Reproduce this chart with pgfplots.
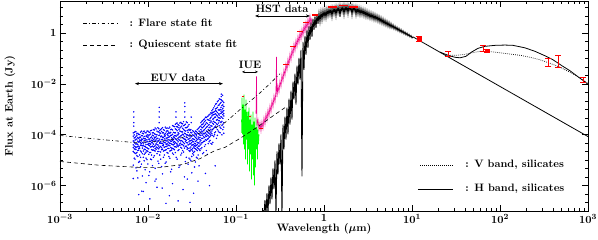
\documentclass[border=0pt]{standalone}
\usepackage{pgfplots}
\pgfplotsset{compat=1.18}
\usepackage{pgfplotstable}
\usetikzlibrary{arrows.meta}
\pgfplotsset{euvstyle/.style={only marks, mark=*, mark size=0.5pt, color=blue, mark options={draw=none, fill=blue}}}
\newcommand{\txt}{\fontsize{10.8}{13}\selectfont\bfseries\boldmath}

% EUV data, two interleaved sets: wavelength + 8 flux samples per bin
\pgfplotstableread{
l a b c d e f g h
0.00680 3.1e-5 1.2e-4 6.4e-6 5.7e-5 2.2e-5 8.9e-5 4.0e-5 1.9e-6
0.00713 7.7e-5 2.7e-5 1.35e-4 1.1e-5 4.6e-5 1.9e-5 6.2e-5 3.4e-5
0.00748 4.4e-5 9.6e-5 2.0e-5 3.8e-6 6.9e-5 3.3e-5 1.5e-5 1.1e-4
0.00785 1.05e-4 3.6e-5 5.2e-5 2.5e-5 8.3e-6 7.3e-5 4.4e-7 2.9e-5
0.00823 2.3e-5 6.0e-5 8.1e-5 1.28e-4 3.9e-5 1.3e-5 4.8e-5 5.5e-6
0.00864 6.6e-5 1.8e-5 3.0e-5 9.2e-5 5.0e-5 2.4e-6 1.15e-4 3.7e-5
0.00906 3.5e-5 1.38e-4 7.0e-5 1.7e-5 2.7e-5 5.9e-5 9.5e-6 8.6e-5
0.00950 8.8e-5 4.1e-5 1.2e-5 6.3e-5 1.2e-4 2.1e-5 3.2e-5 1.3e-6
0.00997 5.4e-5 2.9e-5 1.0e-4 4.2e-5 7.1e-6 7.9e-5 1.4e-4 2.2e-5
0.01046 1.25e-4 6.8e-5 3.7e-5 2.0e-5 5.6e-5 3.5e-6 4.5e-5 9.9e-5
0.01097 2.6e-5 8.2e-5 1.5e-4 4.9e-5 1.6e-5 3.4e-5 6.1e-5 1.05e-5
0.01151 1.6e-4 4.3e-5 2.5e-5 9.1e-5 6.4e-5 1.3e-5 3.3e-5 1.2e-4
0.01207 5.8e-5 1.85e-4 3.9e-5 2.3e-5 7.8e-5 4.8e-6 1.05e-4 2.9e-5
0.01266 3.1e-5 7.1e-5 1.4e-4 5.2e-5 1.8e-5 9.9e-5 4.1e-5 8.6e-7
0.01328 9.4e-5 2.8e-5 6.0e-5 1.75e-4 3.6e-5 2.2e-5 1.3e-4 7.5e-6
0.01393 4.7e-5 1.15e-4 2.1e-5 3.5e-5 8.4e-5 5.5e-5 1.1e-5 1.6e-4
0.01462 1.9e-4 3.8e-5 8.0e-5 2.7e-5 4.6e-5 1.2e-4 6.6e-5 2.9e-6
0.01533 6.9e-5 2.4e-5 1.0e-4 5.0e-5 1.5e-4 1.6e-5 3.2e-5 8.8e-5
0.01608 3.4e-5 1.3e-4 5.7e-5 8.5e-6 7.4e-5 2.6e-5 1.8e-4 4.2e-5
0.01687 1.1e-4 5.3e-5 2.9e-5 7.9e-5 1.9e-5 4.0e-5 9.3e-5 1.4e-4
0.01770 4.5e-5 2.0e-4 8.7e-5 3.7e-5 6.1e-5 2.3e-5 1.2e-5 1.15e-4
0.01857 7.6e-5 3.0e-5 1.65e-4 5.6e-5 9.7e-5 4.4e-6 4.3e-5 2.5e-5
0.01948 2.2e-4 6.5e-5 4.0e-5 1.25e-4 2.8e-5 8.2e-5 1.7e-5 5.1e-5
0.02043 1.2e-4 3.4e-5 2.6e-4 7.0e-5 5.0e-5 1.7e-4 2.0e-5 9.2e-5
0.02143 6.1e-5 2.9e-4 9.8e-5 4.3e-5 1.45e-4 1.1e-5 2.1e-4 3.7e-5
0.02248 2.3e-4 8.0e-5 3.9e-5 1.1e-4 2.6e-5 6.4e-5 1.6e-4 5.2e-6
0.02359 4.7e-5 1.35e-4 3.1e-4 5.8e-5 9.0e-5 2.0e-4 3.2e-5 1.6e-5
0.02474 1.8e-4 5.4e-5 7.6e-5 2.7e-4 4.1e-5 1.05e-4 2.4e-5 1.3e-4
0.02595 8.6e-5 2.4e-4 4.5e-5 1.5e-4 6.8e-5 3.0e-5 1.15e-4 2.2e-6
0.02723 3.6e-5 1.0e-4 1.9e-4 6.0e-5 3.2e-4 4.9e-5 1.3e-5 8.1e-5
0.02856 1.55e-4 6.7e-5 2.9e-5 2.2e-4 9.5e-5 4.0e-5 1.25e-4 7.0e-6
0.02996 7.3e-5 3.0e-5 1.5e-4 4.6e-5 2.2e-5 1.05e-4 5.8e-5 1.1e-5
0.03143 3.9e-5 1.2e-4 6.2e-5 2.6e-5 8.7e-5 1.4e-5 4.9e-5 3.2e-6
0.03297 1.35e-4 5.3e-5 3.3e-5 9.5e-5 2.0e-5 6.8e-5 4.1e-5 1.6e-5
0.03459 2.8e-5 7.9e-5 1.1e-4 3.6e-5 5.5e-5 8.5e-6 1.4e-4 4.4e-5
0.03628 6.5e-5 1.6e-4 4.2e-5 2.4e-5 1.2e-4 5.0e-5 3.1e-5 1.2e-5
0.03806 1.05e-4 3.5e-5 7.6e-5 1.9e-4 4.7e-5 2.7e-5 6.0e-6 1.4e-4
0.03993 1.6e-4 6.1e-5 3.0e-4 9.4e-5 4.3e-5 2.2e-4 2.8e-5 1.2e-4
0.04188 7.2e-5 2.6e-4 1.3e-4 5.0e-5 3.6e-4 1.8e-5 1.9e-4 9.8e-5
0.04394 3.3e-4 1.1e-4 5.6e-5 2.3e-4 7.8e-5 4.2e-4 3.5e-5 1.6e-4
0.04609 1.4e-4 4.8e-4 8.6e-5 3.0e-4 6.1e-5 2.0e-4 1.05e-4 2.4e-5
0.04835 2.4e-4 9.0e-5 5.5e-4 1.6e-4 3.9e-4 7.0e-5 4.5e-5 1.2e-4
0.05072 6.6e-4 2.0e-4 1.05e-4 4.3e-4 1.4e-4 3.0e-4 6.0e-5 8.5e-5
0.05320 3.2e-4 8.8e-4 1.4e-4 5.5e-4 2.2e-4 1.1e-4 6.8e-4 4.3e-5
0.05581 1.15e-3 2.6e-4 6.3e-4 1.8e-4 4.4e-4 8.5e-5 3.4e-4 7.8e-4
0.05855 5.0e-4 1.6e-3 3.0e-4 9.0e-4 1.3e-4 6.7e-4 2.2e-4 1.05e-3
0.06142 1.2e-3 4.0e-4 2.0e-3 2.5e-4 7.5e-4 1.6e-4 5.5e-4 9.5e-5
0.06443 6.0e-4 2.6e-3 9.3e-4 3.6e-4 1.5e-3 2.3e-4 1.25e-4 4.6e-4
0.06759 1.9e-3 5.2e-4 3.0e-4 1.2e-3 7.0e-4 2.4e-3 1.8e-4 8.5e-4
0.07090 8.0e-4 1.5e-3 4.4e-4 2.1e-3 2.6e-4 6.2e-4 1.1e-3 1.6e-4
}\euvA

\pgfplotstableread{
l a b c d e f g h
0.00697 5.1e-5 2.0e-5 9.9e-5 3.6e-5 7.5e-5 1.25e-4 1.2e-5 2.8e-5
0.00730 1.3e-4 4.3e-5 2.6e-5 6.5e-5 5.0e-6 3.1e-5 8.7e-5 1.8e-5
0.00766 2.4e-5 7.9e-5 5.6e-5 1.4e-5 1.15e-4 4.1e-5 2.0e-6 3.4e-5
0.00804 6.2e-5 3.3e-5 1.6e-5 1.02e-4 2.9e-5 5.3e-5 8.0e-5 9.0e-6
0.00843 9.3e-5 5.8e-5 1.4e-4 4.5e-5 2.1e-5 7.0e-6 3.8e-5 6.8e-5
0.00885 3.9e-5 1.1e-4 2.3e-5 7.4e-5 4.7e-5 1.3e-5 5.9e-7 1.35e-4
0.00928 7.2e-5 2.6e-5 4.9e-5 1.2e-4 1.9e-5 3.5e-5 6.1e-5 4.2e-6
0.00973 1.4e-4 6.3e-5 3.1e-5 1.05e-5 8.4e-5 5.2e-5 2.4e-5 9.6e-5
0.01021 4.6e-5 9.1e-5 1.3e-4 2.8e-5 6.7e-5 1.7e-5 3.9e-5 2.5e-6
0.01071 2.0e-5 5.5e-5 7.6e-5 1.45e-4 3.3e-5 1.07e-4 1.1e-5 4.3e-5
0.01124 1.2e-4 3.6e-5 6.1e-6 5.9e-5 9.6e-5 2.5e-5 7.3e-5 4.8e-5
0.01179 8.0e-5 1.55e-4 3.5e-5 5.4e-5 2.4e-5 1.1e-4 1.5e-5 6.9e-5
0.01236 2.7e-5 6.3e-5 1.0e-4 1.7e-4 4.4e-5 3.3e-5 8.3e-5 1.8e-6
0.01297 1.3e-4 4.0e-5 2.2e-5 7.3e-5 1.9e-4 5.7e-5 9.2e-6 3.0e-5
0.01360 5.0e-5 9.7e-5 6.8e-5 3.2e-5 1.2e-4 1.6e-5 4.7e-5 1.5e-4
0.01427 1.75e-4 3.1e-5 4.6e-5 8.9e-5 2.6e-5 6.5e-5 1.35e-4 5.6e-6
0.01498 3.7e-5 1.2e-4 7.9e-5 2.3e-5 5.3e-5 1.6e-4 1.3e-5 4.2e-5
0.01570 9.0e-5 4.8e-5 2.0e-4 6.1e-5 3.4e-5 2.5e-5 1.1e-4 7.6e-6
0.01647 6.2e-5 1.45e-4 3.6e-5 1.05e-4 7.5e-5 4.5e-5 2.0e-5 1.85e-4
0.01728 2.9e-5 8.1e-5 1.25e-4 4.9e-5 1.8e-4 3.8e-5 6.4e-5 1.4e-5
0.01813 1.6e-4 5.6e-5 3.2e-5 9.4e-5 2.4e-5 1.25e-4 4.6e-5 3.5e-6
0.01902 7.0e-5 2.3e-4 1.05e-4 4.1e-5 6.0e-5 2.9e-5 1.55e-4 1.9e-5
0.01995 1.2e-4 4.4e-5 7.7e-5 2.1e-4 3.4e-5 9.1e-5 5.4e-5 2.6e-5
0.02093 2.8e-4 8.9e-5 4.6e-5 1.6e-4 6.5e-5 3.3e-5 2.1e-4 1.3e-5
0.02195 5.3e-5 1.9e-4 1.2e-4 3.4e-5 2.5e-4 7.4e-5 1.0e-4 2.4e-5
0.02303 1.4e-4 3.9e-5 2.9e-4 8.3e-5 4.4e-5 1.85e-4 6.0e-6 6.1e-5
0.02416 9.6e-5 2.2e-4 5.9e-5 3.0e-5 1.3e-4 2.8e-4 4.1e-5 1.9e-5
0.02534 3.3e-4 7.1e-5 1.65e-4 4.9e-5 9.9e-5 2.1e-5 2.3e-4 3.7e-5
0.02658 6.6e-5 1.4e-4 3.5e-5 2.6e-4 5.6e-5 1.1e-4 8.8e-6 1.9e-4
0.02789 2.0e-4 4.8e-5 1.0e-4 7.8e-5 3.0e-4 3.1e-5 1.45e-4 2.7e-5
0.02925 4.2e-5 1.65e-4 6.9e-5 2.5e-4 2.4e-5 9.0e-5 5.3e-5 1.2e-5
0.03069 1.25e-4 4.4e-5 2.5e-5 8.2e-5 5.9e-5 3.3e-5 1.6e-4 9.5e-6
0.03219 5.6e-5 9.9e-5 1.45e-4 2.9e-5 4.0e-5 7.0e-5 1.8e-5 2.3e-5
0.03377 3.0e-5 6.5e-5 4.6e-5 1.2e-4 2.2e-5 8.8e-5 5.4e-6 3.7e-5
0.03543 9.1e-5 1.35e-4 3.8e-5 5.8e-5 7.3e-5 1.3e-5 2.6e-5 1.05e-4
0.03716 4.8e-5 2.9e-5 1.75e-4 6.9e-5 3.6e-5 1.1e-4 8.2e-5 1.6e-5
0.03898 2.1e-4 7.9e-5 5.3e-5 1.3e-4 2.4e-5 3.9e-5 9.7e-5 6.4e-5
0.04090 1.1e-4 3.4e-4 4.8e-5 1.9e-4 7.2e-5 2.5e-4 3.1e-5 1.4e-4
0.04290 4.0e-4 8.3e-5 2.1e-4 5.5e-5 1.5e-4 1.1e-4 2.9e-4 2.0e-5
0.04501 1.8e-4 4.9e-4 1.2e-4 3.6e-4 6.4e-5 2.6e-4 9.0e-5 4.1e-5
0.04721 6.7e-5 2.8e-4 5.2e-4 1.3e-4 2.1e-4 4.0e-4 1.7e-5 9.7e-5
0.04953 3.7e-4 1.5e-4 8.0e-5 6.1e-4 2.5e-4 5.3e-5 1.9e-4 1.15e-4
0.05195 1.2e-4 4.8e-4 7.5e-4 2.3e-4 3.5e-4 9.5e-5 1.65e-4 4.6e-5
0.05449 6.0e-4 1.0e-3 2.8e-4 1.6e-4 4.1e-4 7.7e-4 9.5e-5 5.0e-5
0.05717 2.0e-4 8.2e-4 1.35e-3 4.9e-4 3.1e-4 1.2e-4 6.4e-4 1.0e-4
0.05997 1.7e-3 3.8e-4 6.0e-4 1.1e-3 1.9e-4 8.4e-4 2.7e-4 7.2e-5
0.06291 4.8e-4 2.2e-3 1.45e-3 2.9e-4 9.6e-4 1.4e-4 6.6e-4 3.6e-4
0.06600 1.0e-3 3.2e-4 2.5e-3 6.9e-4 2.0e-4 1.7e-3 4.5e-4 1.2e-4
0.06924 2.2e-3 7.6e-4 4.9e-4 1.4e-3 1.0e-4 3.4e-4 9.6e-4 2.3e-4
0.07263 5.5e-4 1.85e-3 3.0e-4 9.0e-4 1.3e-3 2.0e-4 7.0e-4 1.15e-4
}\euvB

% IUE spectrum
\pgfplotstableread{
l f
0.1155 3.98e-4
0.1162 1.2e-4
0.1170 2.9e-3
0.1186 1.03e-4
0.1194 6.0e-4
0.1201 1.54e-3
0.1217 4.17e-5
0.1225 3.0e-4
0.1233 3.8e-3
0.1250 2.65e-5
0.1258 2.5e-4
0.1266 9.8e-4
0.1283 1.07e-5
0.1291 3.5e-4
0.1300 2.42e-3
0.1317 6.5e-5
0.1325 8.0e-4
0.1334 4.77e-4
0.1352 6.8e-6
0.1361 2.0e-4
0.1370 8.2e-4
0.1388 2.65e-5
0.1397 5.0e-4
0.1406 1.18e-3
0.1425 3.6e-6
0.1434 1.5e-4
0.1443 3.98e-4
0.1462 1.69e-5
0.1472 9.0e-5
0.1482 6.25e-4
0.1501 1.77e-6
0.1511 1.2e-4
0.1521 2.54e-4
0.1541 1.07e-5
0.1551 2.0e-4
0.1561 8.2e-4
0.1582 2.5e-6
0.1592 1.0e-4
0.1603 3.32e-4
0.1624 1.03e-6
0.1634 7.0e-5
0.1645 4.77e-4
0.1667 5.2e-6
0.1678 1.4e-4
0.1689 1.93e-4
0.1711 2.65e-5
0.1722 1.6e-4
0.1734 3.98e-4
0.1757 1.07e-5
0.1768 9.0e-5
0.1780 1.61e-4
0.1803 4.17e-5
0.1827 1.03e-4
}\iue

% HST spectrum
\pgfplotstableread{
l f
0.1688 6.8e-4
0.1710 2.0e-2
0.1732 2.32e-4
0.1778 3.98e-4
0.1825 1.54e-4
0.1874 3.03e-4
0.1923 1.40e-4
0.1974 3.32e-4
0.2027 1.77e-4
0.2080 4.77e-4
0.2135 2.54e-4
0.2192 6.8e-4
0.2250 3.64e-4
0.2310 9.8e-4
0.2371 5.2e-4
0.2434 1.41e-3
0.2498 7.9e-4
0.2564 2.21e-3
0.2632 1.23e-3
0.2702 3.48e-3
0.2774 1.93e-3
0.2847 5.46e-3
0.2885 0.118
0.2923 3.03e-3
0.3000 8.6e-3
0.3080 4.77e-3
0.3161 0.01346
0.3245 7.8e-3
0.3331 0.0232
0.3420 0.0129
0.3510 0.0364
0.3603 0.0211
0.3699 0.0625
0.3797 0.0348
0.3898 0.0982
0.4001 0.0546
0.4107 0.154
0.4216 0.0857
0.4328 0.242
0.4443 0.1347
0.4560 0.380
0.4681 0.202
0.4806 0.546
0.4933 0.290
0.5064 0.783
0.5198 0.417
0.5336 1.12
0.5477 0.571
0.5623 1.47
0.5772 0.783
0.5925 2.12
0.6082 1.074
0.6243 2.77
0.6409 1.41
0.6579 3.64
0.6753 1.85
0.6932 4.77
0.7116 2.32
0.7305 3.98
}\hst

% photospheric model spectrum
\pgfplotstableread{
l f
0.2027 1.07e-7
0.2080 7.5e-8
0.2135 2.65e-7
0.2192 7.5e-8
0.2250 4.99e-7
0.2310 7.5e-8
0.2371 1.03e-6
0.2434 1.85e-7
0.2498 2.11e-6
0.2564 2.9e-7
0.2632 4.77e-6
0.2702 7.2e-7
0.2774 9.8e-6
0.2847 7.5e-8
0.2923 2.21e-5
0.3000 2.77e-6
0.3080 4.56e-5
0.3161 6.8e-6
0.3245 1.03e-4
0.3331 7.5e-8
0.3420 2.54e-4
0.3510 2.65e-5
0.3603 5.2e-4
0.3699 6.5e-5
0.3797 1.18e-3
0.3898 1.03e-4
0.4001 2.65e-3
0.4107 2.54e-4
0.4216 5.46e-3
0.4328 3.98e-4
0.4443 0.0123
0.4560 2.42e-3
0.4681 0.0254
0.4806 1.54e-3
0.4933 0.0522
0.5064 9.4e-3
0.5198 0.107
0.5336 0.0148
0.5477 0.221
0.5623 2.32e-6
0.5772 0.456
0.5925 0.0364
0.6082 0.784
0.6243 0.141
0.6409 1.35
0.6579 0.265
0.6753 1.93
0.6932 0.546
0.7116 2.77
0.7305 0.716
0.7498 3.64
0.7697 1.35
0.7901 4.56
0.8111 1.61
0.8326 5.46
0.8547 2.32
0.8773 6.25
0.9006 2.77
0.9245 7.16
0.9490 3.32
0.9741 7.84
1.0000 3.98
1.0265 8.20
1.0537 3.98
1.0817 8.97
1.1103 4.77
1.1398 9.39
1.1700 5.22
1.2010 9.82
1.2328 4.36
1.2655 10.27
1.2991 5.71
1.3335 10.75
1.3689 4.77
1.4052 11.25
1.4424 6.25
1.4807 11.77
1.5199 4.36
1.5602 11.77
1.6016 6.84
1.6440 12.31
1.6876 5.22
1.7324 12.31
1.7783 6.84
1.8255 12.31
1.8739 5.71
1.9235 12.31
1.9745 7.49
2.0269 11.77
2.0806 5.22
2.1358 11.77
2.1924 6.84
2.2506 11.25
2.3102 5.22
2.3715 10.75
2.4343 5.71
2.4989 10.18
2.5652 5.22
2.6332 9.47
2.7030 5.22
2.7746 8.81
2.8482 4.77
2.9237 8.20
3.0012 4.36
3.0808 7.49
3.1625 4.17
3.2463 6.84
3.3324 3.81
3.4207 6.31
3.5114 3.64
3.6045 5.87
3.7000 3.32
3.7981 5.46
3.8988 3.18
4.0022 4.99
4.1083 2.90
4.2172 4.56
4.3290 2.65
4.4438 4.13
4.5616 2.42
4.6825 3.70
4.8066 2.21
4.9341 3.32
5.0649 2.02
5.1992 2.98
5.3370 1.85
5.4785 2.68
5.6237 1.69
5.7728 2.40
5.9258 1.61
6.0829 2.15
6.2442 1.47
6.4097 1.93
6.5797 1.35
6.7541 1.73
6.9331 1.23
7.1169 1.56
7.3056 1.12
7.4993 1.40
7.6981 1.03
7.9022 1.25
8.1117 0.939
8.3267 1.12
8.5475 0.858
8.7741 1.01
9.0067 0.784
9.2455 0.906
9.4906 0.716
9.7422 0.812
10.000 0.654
10.265 0.716
}\phot

\begin{document}
\begin{tikzpicture}
\begin{axis}[
  name=ax,
  scale only axis, width=528bp, height=210bp,
  xmode=log, ymode=log,
  xmin=1e-3, xmax=1e3, ymin=1e-7, ymax=18.5,
  xtick={1e-3,1e-2,1e-1,1,10,100,1000},
  xticklabels={$10^{-3}$,$10^{-2}$,$10^{-1}$,$1$,$10^{1}$,$10^{2}$,$10^{3}$},
  minor xtick={2e-3,3e-3,4e-3,5e-3,6e-3,7e-3,8e-3,9e-3,2e-2,3e-2,4e-2,5e-2,6e-2,7e-2,8e-2,9e-2,0.2,0.3,0.4,0.5,0.6,0.7,0.8,0.9,2,3,4,5,6,7,8,9,20,30,40,50,60,70,80,90,200,300,400,500,600,700,800,900},
  ytick={1e-6,1e-4,1e-2,1},
  yticklabels={$10^{-6}$,$10^{-4}$,$10^{-2}$,$1$},
  minor ytick={2.154e-7,4.642e-7,2.154e-6,4.642e-6,1e-5,2.154e-5,4.642e-5,2.154e-4,4.642e-4,1e-3,2.154e-3,4.642e-3,2.154e-2,4.642e-2,0.1,0.2154,0.4642,2.154,4.642,10},
  tick align=inside,
  major tick length=6bp, minor tick length=3bp,
  every tick/.style={black, line width=0.6pt},
  axis line style={line width=0.8pt},
  tick label style={font=\txt},
  xlabel={Wavelength ($\mu$m)}, ylabel={Flux at Earth (Jy)},
  label style={font=\txt},
  xlabel style={at={(axis description cs:0.5,-0.086)}, anchor=center},
  ylabel style={at={(axis description cs:-0.0947,0.5)}, anchor=center},
  clip mode=individual,
]
% EUV data
\addplot[euvstyle] table[x=l, y=a] {\euvA};
\addplot[euvstyle] table[x=l, y=b] {\euvA};
\addplot[euvstyle] table[x=l, y=c] {\euvA};
\addplot[euvstyle] table[x=l, y=d] {\euvA};
\addplot[euvstyle] table[x=l, y=e] {\euvA};
\addplot[euvstyle] table[x=l, y=f] {\euvA};
\addplot[euvstyle] table[x=l, y=g] {\euvA};
\addplot[euvstyle] table[x=l, y=h] {\euvA};
\addplot[euvstyle] table[x=l, y=a] {\euvB};
\addplot[euvstyle] table[x=l, y=b] {\euvB};
\addplot[euvstyle] table[x=l, y=c] {\euvB};
\addplot[euvstyle] table[x=l, y=d] {\euvB};
\addplot[euvstyle] table[x=l, y=e] {\euvB};
\addplot[euvstyle] table[x=l, y=f] {\euvB};
\addplot[euvstyle] table[x=l, y=g] {\euvB};
\addplot[euvstyle] table[x=l, y=h] {\euvB};
\addplot[euvstyle] coordinates {
 (0.0069,2.2e-4) (0.0069,3e-4) (0.0069,5e-4) (0.0069,8e-4)
 (0.0134,3e-4) (0.0134,5e-4) (0.0134,8e-4) (0.0134,1.2e-3)
 (0.0208,5e-4) (0.0208,8e-4)
 (0.0262,5e-4) (0.0262,8e-4) (0.0262,1.3e-3) (0.0262,1.8e-3)
 (0.0310,3e-4) (0.0310,5e-4)
 (0.068,3.2e-3) (0.068,4e-3) (0.0705,3.6e-3)
 (0.0085,6e-7) (0.0105,3e-7) (0.012,1.5e-6) (0.0145,8e-7) (0.0175,4e-7)
 (0.019,1.2e-6) (0.022,2.5e-7) (0.025,7e-7) (0.028,1.8e-6) (0.033,5e-7)
 (0.037,1.5e-6) (0.045,3e-6) (0.05,1e-6) (0.058,6e-6) (0.016,2e-7) (0.030,2.2e-7)
};
% IUE
\addplot[color={rgb,255:red,0;green,255;blue,0}, line width=0.6pt] table[x=l, y=f] {\iue};
% photosphere model
\addplot[black, line width=0.9pt] table[x=l, y=f] {\phot};
\addplot[black, line width=0.8pt] coordinates {(10.265,0.716) (1000,8.5e-5)};
% HST
\addplot[magenta, line width=0.6pt] table[x=l, y=f] {\hst};
% dust models
\addplot[black, line width=0.8pt] coordinates {
 (20.81,0.180) (25.66,0.135) (30.82,0.1125) (35.12,0.1075) (41.08,0.123) (48.07,0.185)
 (56.23,0.2535) (67.53,0.304) (87.76,0.332) (114.0,0.341) (140.5,0.332) (192.4,0.265)
 (249.9,0.193) (324.7,0.129) (400.2,0.0898) (506.4,0.0522) (624.4,0.0332) (769.6,0.0193)
 (900.9,0.0129) (1000,0.0098)};
\addplot[black, line width=0.7pt, dash pattern=on 0.7pt off 1.3pt] coordinates {
 (25.66,0.135) (32.46,0.135) (40.03,0.1475) (48.07,0.169) (59.27,0.193) (76.97,0.188)
 (100,0.169) (129.9,0.151) (168.8,0.135) (219.2,0.1125) (284.8,0.0898) (370.0,0.0654)
 (480.7,0.0456) (624.4,0.029) (769.6,0.0193) (900.9,0.01346) (1000,0.0103)};
% fits
\addplot[black, line width=0.6pt, dash pattern=on 3.5pt off 2.5pt on 0.8pt off 2.5pt] coordinates {
 (1e-3,9.4e-5) (2.85e-3,6.6e-5) (6.76e-3,5.0e-5) (0.01368,5.5e-5) (0.025,7.8e-5)
 (0.0507,1.48e-4) (0.075,3.03e-4) (0.111,9.8e-4) (0.178,3.8e-3) (0.243,0.0103) (0.316,0.0254)};
\addplot[black, line width=0.6pt, dash pattern=on 4pt off 3pt] coordinates {
 (1e-3,8.9e-6) (2.85e-3,6.3e-6) (8.1e-3,5.2e-6) (0.01368,5.2e-6) (0.025,6.8e-6)
 (0.039,1.15e-5) (0.0577,2.4e-5) (0.075,3.2e-5) (0.111,7.2e-5) (0.178,2.1e-4)
 (0.277,6.3e-4) (0.36,1.17e-3)};
% photometry (red bars)
\addplot[red, line width=1.1pt, unbounded coords=jump] coordinates {
 (0.1155,3.18e-3) (0.1217,3.18e-3) (nan,nan)
 (0.1406,5.2e-4) (0.1482,5.2e-4) (nan,nan)
 (0.1825,1.77e-4) (0.2027,1.77e-4) (nan,nan)
 (0.3420,0.0572) (0.4001,0.0572) (nan,nan)
 (0.4107,0.290) (0.4806,0.290) (nan,nan)
 (0.4933,1.12) (0.5772,1.12) (nan,nan)
 (0.5772,2.53) (0.6753,2.53) (nan,nan)
 (0.7305,5.22) (0.8547,5.22) (nan,nan)
 (1.1103,10.75) (1.4052,10.75) (nan,nan)
 (1.4807,12.31) (1.8739,12.31) (nan,nan)
 (1.9235,10.75) (2.4343,10.75)};
\addplot[red, mark=none, line width=0.8pt, draw=none,
  error bars/.cd, y dir=both, y explicit,
  error bar style={red, line width=0.8pt},
  error mark options={red, line width=0.8pt, mark size=3bp, rotate=90}] coordinates {
 (12.0,0.571) += (0,0.145) -= (0,0.115)
 (25.66,0.147) += (0,0.038) -= (0,0.029)
 (64.1,0.254) += (0,0.064) -= (0,0.061)
 (71.1,0.202) += (0,0.02) -= (0,0.02)
 (355,0.0684) += (0,0.030) -= (0,0.018)
 (460,0.075) += (0,0.054) -= (0,0.031)
 (880,0.0141) += (0,0.0036) -= (0,0.0029)};
\addplot[only marks, mark=square*, mark size=1.8bp, red] coordinates {(12.0,0.571) (71.1,0.202)};

% annotations
\draw[{Stealth[length=4bp,width=3bp]}-{Stealth[length=4bp,width=3bp]}, line width=0.6pt]
  (axis cs:0.00711,0.0103) -- (axis cs:0.0711,0.0103);
\node[font=\txt] at (axis cs:0.02193,0.0176) {EUV data};
\draw[{Stealth[length=3bp,width=2.5bp]}-{Stealth[length=3bp,width=2.5bp]}, line width=0.6pt]
  (axis cs:0.117,0.030) -- (axis cs:0.178,0.030);
\node[font=\txt] at (axis cs:0.1442,0.057) {IUE};
\draw[{Stealth[length=4bp,width=3bp]}-{Stealth[length=4bp,width=3bp]}, line width=0.6pt]
  (axis cs:0.1644,4.77) -- (axis cs:0.693,4.77);
\node[font=\txt] at (axis cs:0.3333,8.97) {HST data};
% legends
\draw[black, line width=0.6pt, dash pattern=on 3.5pt off 2.5pt on 0.8pt off 2.5pt]
  (rel axis cs:0.0436,0.895) -- (rel axis cs:0.108,0.895);
\node[anchor=west, font=\txt] at (rel axis cs:0.125,0.895) {: Flare state fit};
\draw[black, line width=0.6pt, dash pattern=on 4pt off 3pt]
  (rel axis cs:0.0436,0.790) -- (rel axis cs:0.108,0.790);
\node[anchor=west, font=\txt] at (rel axis cs:0.125,0.790) {: Quiescent state fit};
\draw[black, line width=0.7pt, dash pattern=on 0.7pt off 1.3pt]
  (rel axis cs:0.682,0.219) -- (rel axis cs:0.744,0.219);
\node[anchor=west, font=\txt] at (rel axis cs:0.761,0.219) {: V band, silicates};
\draw[black, line width=0.8pt]
  (rel axis cs:0.678,0.105) -- (rel axis cs:0.744,0.105);
\node[anchor=west, font=\txt] at (rel axis cs:0.761,0.105) {: H band, silicates};
\end{axis}
\pgfresetboundingbox
\useasboundingbox ([shift={(-60bp,-29bp)}]ax.south west) rectangle ([shift={(10bp,1bp)}]ax.north east);
\end{tikzpicture}
\end{document}
